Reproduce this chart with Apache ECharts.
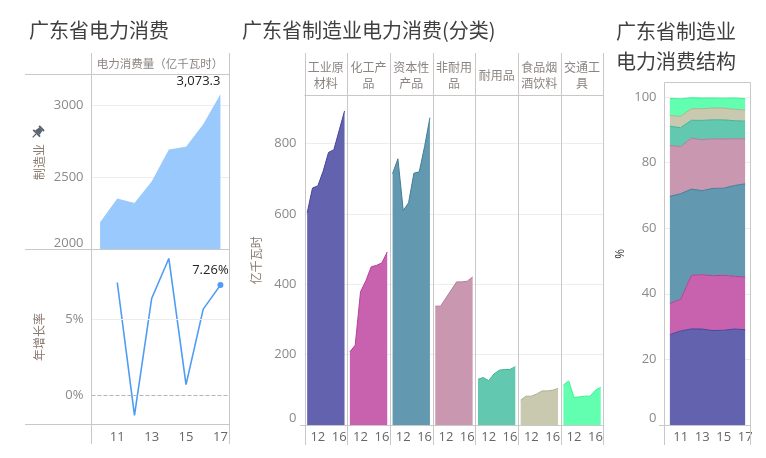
<!DOCTYPE html>
<html><head><meta charset="utf-8">
<script src="https://cdn.jsdelivr.net/npm/echarts@6/dist/echarts.min.js"></script>
<style>html,body{margin:0;padding:0;background:#fff;}#c{width:766px;height:458px;}</style>
</head><body><div id="c"></div>
<script>
// ---- data ----
const years = ['10','11','12','13','14','15','16','17'];
const consumption = [2189.2, 2351.9, 2321.3, 2469.4, 2691.9, 2711.3, 2865.3, 3073.3];
const growth = [null, 7.43, -1.30, 6.38, 9.01, 0.72, 5.68, 7.26];
const categories = ['工业原材料','化工产品','资本性产品','非耐用品','耐用品','食品烟酒饮料','交通工具'];
const rawMaterials = [603, 674, 680, 722, 775, 783, 838, 893];
const chemicals    = [208, 227, 379, 410, 450, 454, 461, 492];
const capitalGoods = [715, 757, 610, 632, 716, 720, 792, 874];
const nonDurables  = [338, 338, 361, 384, 407, 407, 409, 421];
const durables     = [130, 135, 126, 145, 156, 158, 158, 166];
const foodDrink    = [71, 82, 82, 88, 97, 97, 99, 104];
const transport    = [114, 125, 78, 80, 82, 82, 99, 107];
const categoryValues = [rawMaterials, chemicals, capitalGoods, nonDurables, durables, foodDrink, transport];

// ---- styling ----
const fills = ['#6262ae','#c962ae','#6299b0','#c997b0','#62c9b0','#c9c9b0','#62ffb0'];
const strokes = ['#45459a','#b5409a','#3f7d98','#b47b98','#3fb398','#b0b096','#3cf096'];
const FONT = "'Open Sans','Noto Sans CJK SC',sans-serif";
const CJK = "'Noto Sans CJK SC',sans-serif";
const BORDER = '#c8c8c8';
const GRIDC = '#ededed';
const LABELC = '#8a8a8a';

const chart = echarts.init(document.getElementById('c'), null, {renderer:'canvas'});

const colLeft = 304.5, colW = 42.7;
const grids = [
  {left: 91.5, top: 74.5, width: 137.5, height: 175},
  {left: 91.5, top: 249.5, width: 137.5, height: 175},
];
for (let i = 0; i < 7; i++) grids.push({left: colLeft + i*colW, top: 95.5, width: colW, height: 329.5});
grids.push({left: 664.5, top: 82.5, width: 86, height: 342.5});
grids.forEach(g => { g.containLabel = false; g.show = false; });

const yLabel = (extra) => Object.assign({color:LABELC, fontSize:13, margin:8, fontFamily:FONT,
  showMaxLabel:false, verticalAlignMinLabel:'bottom', formatter:(v)=>String(v)}, extra || {});

const xAxes = [], yAxes = [];
const oddOnly = (i) => i % 2 === 1;
xAxes.push({gridIndex:0, type:'category', data:years, boundaryGap:true, axisLine:{show:false}, axisTick:{show:false}, axisLabel:{show:false}, splitLine:{show:false}});
xAxes.push({gridIndex:1, type:'category', data:years, boundaryGap:true, axisLine:{show:false}, axisTick:{show:false},
  axisLabel:{interval:oddOnly, color:'#666', fontSize:13, margin:6, fontFamily:FONT}, splitLine:{show:false}});
yAxes.push({gridIndex:0, type:'value', min:2000, max:3210, interval:500, axisLine:{show:false}, axisTick:{show:false},
  axisLabel:yLabel(),
  splitLine:{lineStyle:{color:GRIDC}},
  name:'制造业', nameLocation:'middle', nameGap:46, nameTextStyle:{color:'#8a7a70', fontSize:12, fontFamily:CJK}});
yAxes.push({gridIndex:1, type:'value', min:-1.9, max:9.6, axisLine:{show:false}, axisTick:{show:false},
  axisLabel:{color:LABELC, fontSize:13, margin:8, fontFamily:FONT, customValues:[0,5], formatter:'{value}%'},
  splitLine:{show:false},
  name:'年增长率', nameLocation:'middle', nameGap:46, nameTextStyle:{color:'#8a7a70', fontSize:12, fontFamily:CJK}});
for (let i = 0; i < 7; i++) {
  xAxes.push({gridIndex:2+i, type:'category', data:years, boundaryGap:true, axisLine:{show:false}, axisTick:{show:false},
    axisLabel:{interval:(k)=>k===2||k===6, color:'#666', fontSize:13, margin:6, fontFamily:FONT}, splitLine:{show:false}});
  yAxes.push({gridIndex:2+i, type:'value', min:0, max:937, interval:200, axisLine:{show:false}, axisTick:{show:false},
    axisLabel:yLabel({show:i===0}),
    splitLine:{lineStyle:{color:GRIDC}},
    name: i===0 ? '亿千瓦时' : '', nameLocation:'middle', nameGap:42, nameTextStyle:{color:'#8a7a70', fontSize:12, fontFamily:CJK}});
}
xAxes.push({gridIndex:9, type:'category', data:years, boundaryGap:true, axisLine:{show:false}, axisTick:{show:false},
  axisLabel:{interval:oddOnly, color:'#666', fontSize:13, margin:6, fontFamily:FONT}, splitLine:{show:false}});
yAxes.push({gridIndex:9, type:'value', min:0, max:104.4, interval:20, axisLine:{show:false}, axisTick:{show:false},
  axisLabel:yLabel(),
  splitLine:{lineStyle:{color:GRIDC}},
  name:'%', nameLocation:'middle', nameGap:38, nameTextStyle:{color:'#333', fontSize:12, fontFamily:FONT}});

const series = [];
// total consumption area
series.push({type:'line', xAxisIndex:0, yAxisIndex:0, showAllSymbol:true, symbol:'circle', symbolSize:0,
  itemStyle:{color:'rgba(0,0,0,0)'},
  lineStyle:{width:0}, areaStyle:{color:'#99c9fd', opacity:1},
  data: consumption.map((v,i) => i === consumption.length-1 ? {value:v, symbolSize:1, label:{show:true, position:'top', align:'right', distance:6,
    formatter:(p)=>p.value.toLocaleString('en-US',{minimumFractionDigits:1,maximumFractionDigits:1}), color:'#222', fontSize:13, fontFamily:FONT}} : v),
  label:{show:false}, silent:true, z:2});
// growth rate line
series.push({type:'line', xAxisIndex:1, yAxisIndex:1, showAllSymbol:true, symbol:'circle', symbolSize:0,
  lineStyle:{color:'#4f9cf5', width:1.6}, itemStyle:{color:'#4f9cf5'},
  data: growth.map((v,i) => i === growth.length-1 ? {value:v, symbolSize:6, label:{show:true, position:'top', distance:5, offset:[-10,0],
    formatter:(p)=>p.value.toFixed(2)+'%', color:'#222', fontSize:13, fontFamily:FONT}} : v),
  label:{show:false}, silent:true, z:3,
  markLine:{silent:true, symbol:'none', label:{show:false},
    data:[{yAxis:0, lineStyle:{color:'#b5b5b5', type:'dashed', width:1}}, {yAxis:5, lineStyle:{color:GRIDC, type:'solid', width:1}}]}});
// categories
categoryValues.forEach((arr, i) => {
  series.push({type:'line', name:categories[i], xAxisIndex:2+i, yAxisIndex:2+i, symbol:'none',
    lineStyle:{color:strokes[i], width:1}, areaStyle:{color:fills[i], opacity:1}, data:arr, silent:true, z:2});
});
// share structure (stacked %)
categoryValues.forEach((arr, i) => {
  series.push({type:'line', name:categories[i]+'占比', xAxisIndex:9, yAxisIndex:9, symbol:'none', stack:'share',
    lineStyle:{color:strokes[i], width:1}, areaStyle:{color:fills[i], opacity:1},
    data: arr.map((v,k) => +(v / consumption[k] * 100).toFixed(2)), silent:true, z:2});
});

// ---- frame lines & texts ----
const L = (x1,y1,x2,y2) => ({type:'line', shape:{x1,y1,x2,y2}, style:{stroke:BORDER, lineWidth:1}, silent:true, z:100});
const graphics = [
  L(25,74.5,229.5,74.5), L(25,249.5,229.5,249.5), L(25,424.5,229.5,424.5),
  L(91.5,53,91.5,444), L(229.5,53,229.5,444),
  L(304.5,95.5,603.5,95.5), L(300,425.5,603.5,425.5),
  L(664.5,82.5,750.5,82.5), L(659,425.5,750.5,425.5), L(664.5,82.5,664.5,445), L(750.5,82.5,750.5,445),
];
for (let i = 0; i <= 7; i++) { const x = Math.round(colLeft + i*colW) + 0.5; graphics.push(L(x,53,x,445)); }
categories.forEach((c, i) => {
  const t = c.length > 3 ? c.slice(0,3) + '\n' + c.slice(3) : c;
  graphics.push({type:'text', x: colLeft + (i+0.5)*colW, y: 75, silent:true,
    style:{text:t, fill:'#8c8480', fontSize:12, fontFamily:CJK, align:'center', verticalAlign:'middle', lineHeight:16}});
});
graphics.push({type:'text', x:160, y:64, silent:true,
  style:{text:'电力消费量（亿千瓦时）', fill:'#8c8480', fontSize:11.5, fontFamily:CJK, align:'center', verticalAlign:'middle'}});
// pin icon
graphics.push({type:'group', x:38, y:132, rotation:-Math.PI/4, silent:true, children:[
  {type:'rect', shape:{x:-3.5, y:-6, width:7, height:2}, style:{fill:'#5a6270'}},
  {type:'polygon', shape:{points:[[-2.2,-4],[2.2,-4],[3.2,1],[-3.2,1]]}, style:{fill:'#5a6270'}},
  {type:'rect', shape:{x:-4.8, y:1, width:9.6, height:1.8}, style:{fill:'#5a6270'}},
  {type:'line', shape:{x1:0, y1:2.8, x2:0, y2:7.5}, style:{stroke:'#5a6270', lineWidth:1.2}}
]});

const titleStyle = {fontSize:20, fontWeight:'normal', color:'#404040', fontFamily:CJK};
chart.setOption({
  animation:false,
  textStyle:{fontFamily:FONT},
  title:[
    {text:'广东省电力消费', left:29, top:20, padding:0, textStyle:titleStyle},
    {text:'广东省制造业电力消费(分类)', left:242, top:20, padding:0, textStyle:titleStyle},
    {text:'广东省制造业\n电力消费结构', left:616, top:16, padding:0, textStyle:Object.assign({lineHeight:30}, titleStyle)}
  ],
  grid:grids, xAxis:xAxes, yAxis:yAxes, series:series, graphic:graphics
});
</script></body></html>
